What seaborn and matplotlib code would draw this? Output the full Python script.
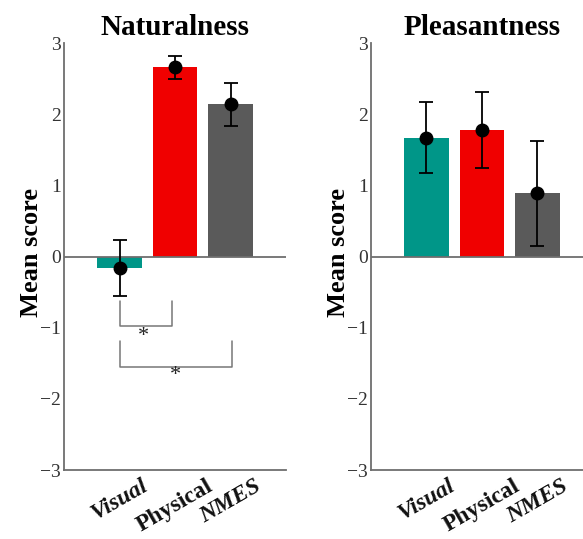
import matplotlib
matplotlib.use("Agg")
import matplotlib.pyplot as plt
import seaborn as sns
import numpy as np
import pandas as pd

categories = ["Visual", "Physical", "NMES"]
nat_mean = [-0.16, 2.66, 2.14]
nat_err = [0.39, 0.165, 0.30]
ple_mean = [1.67, 1.78, 0.89]
ple_err = [0.50, 0.54, 0.735]
colors = ["#009688", "#f00000", "#5a5a5a"]
titles = ["Naturalness", "Pleasantness"]
yticks = [-3, -2, -1, 0, 1, 2, 3]
ytick_labels = ["\u22123", "\u22122", "\u22121", "0", "1", "2", "3"]
# significance brackets: (x_left, x_right, y_top, y_bottom, star_x, star_y)
brackets = [(0, 0.95, -0.63, -0.98, 0.43, -1.12),
            (0, 2.03, -1.18, -1.55, 1.0, -1.67)]

sns.set_style("white")
plt.rcParams["font.family"] = ["Liberation Serif", "DejaVu Serif"]
plt.rcParams["mathtext.fontset"] = "stix"

fig = plt.figure(figsize=(5.83, 5.39), dpi=100)
ax1 = fig.add_axes([0.1098, 0.128, 0.381, 0.792])
ax2 = fig.add_axes([0.636, 0.128, 0.381, 0.792])

spine_col = "#6e6e6e"
for ax, means, errs, title in [(ax1, nat_mean, nat_err, titles[0]),
                               (ax2, ple_mean, ple_err, titles[1])]:
    df = pd.DataFrame({"cond": categories, "score": means})
    sns.barplot(data=df, x="cond", y="score", hue="cond", palette=colors,
                legend=False, width=0.8, ax=ax, linewidth=0, saturation=1)
    ax.axhline(0, color=spine_col, lw=1.3, zorder=1)
    ax.errorbar(np.arange(len(categories)), means, yerr=errs, fmt="o",
                color="black", ms=9, capsize=5, elinewidth=1.3,
                capthick=1.3, zorder=5)
    ax.set_xlim(-1, 3)
    ax.set_ylim(-3, 3)
    ax.set_yticks(yticks)
    ax.set_yticklabels(ytick_labels, fontsize=14, color="#333333")
    ax.set_xticks(range(len(categories)))
    ax.set_xticklabels(categories)
    for lab, cat in zip(ax.get_xticklabels(), categories):
        lab.set_rotation(30)
        lab.set_ha("center")
        lab.set_va("top")
        lab.set_fontsize(17)
        lab.set_fontweight("bold")
        lab.set_color("#111111")
        if cat != "Physical":
            lab.set_style("italic")
    ax.tick_params(axis="both", direction="in", length=4, width=1,
                   color=spine_col, pad=2)
    ax.tick_params(axis="x", pad=4)
    for side in ["top", "right"]:
        ax.spines[side].set_visible(False)
    for side in ["left", "bottom"]:
        ax.spines[side].set_color(spine_col)
        ax.spines[side].set_linewidth(1.3)
    ax.set_xlabel("")
    ax.set_ylabel("Mean score", fontsize=19, fontweight="bold",
                  color="black")
    ax.yaxis.set_label_coords(-0.095, 0.51)
    ax.set_title(title, fontsize=21, fontweight="bold", pad=6, color="black")

for xl, xr, yt, yb, sx, sy in brackets:
    ax1.plot([xl, xl, xr, xr], [yt, yb, yb, yt], color="#777777", lw=1.1,
             zorder=3)
    ax1.text(sx, sy, "*", fontsize=16, ha="center", va="center",
             color="#222222")

fig.savefig("out.png", dpi=100)
